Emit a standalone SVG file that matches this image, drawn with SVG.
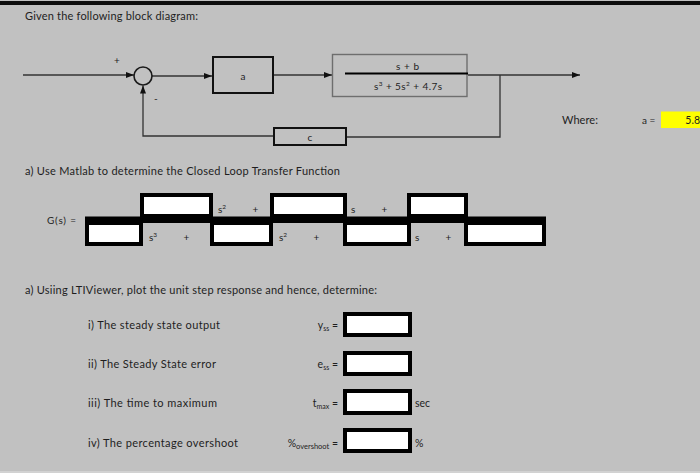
<svg xmlns="http://www.w3.org/2000/svg" width="700" height="473" viewBox="0 0 700 473">
<defs>
<marker id="arr" markerUnits="userSpaceOnUse" markerWidth="9" markerHeight="7" refX="8" refY="3" orient="auto">
<path d="M0,0 L8,3 L0,6 z" fill="#111"/>
</marker>
<style>
text{font-family:Lato,"Open Sans","Liberation Sans",sans-serif;fill:#1e1e1e}
.t{font-size:11px}
.s{font-size:10px}
.q{font-size:10.5px}
.c{stroke:#333;stroke-width:1.3;fill:none}
.blk{fill:none;stroke:#111;stroke-width:2}
.bx{fill:#fff;stroke:#000;stroke-width:4}
</style>
</defs>
<rect x="0" y="0" width="700" height="473" fill="#c1c1c1"/>
<rect x="0" y="1" width="700" height="4" fill="#0d0d0d"/>
<rect x="0" y="471" width="700" height="2" fill="#d2d2d2"/>

<text class="t" x="25" y="19.5" textLength="173">Given the following block diagram:</text>

<g id="connectors">
<line class="c" x1="23" y1="75" x2="134" y2="75" marker-end="url(#arr)"/>
<line class="c" x1="152" y1="76" x2="212" y2="76" marker-end="url(#arr)"/>
<line class="c" x1="273" y1="75" x2="332" y2="75" marker-end="url(#arr)"/>
<line class="c" x1="468" y1="75" x2="580" y2="75" marker-end="url(#arr)"/>
<polyline class="c" points="500,75 500,137 346,137"/>
<polyline class="c" points="273,136 143,136 143,85.5" marker-end="url(#arr)"/>
</g>

<g id="sum">
<circle cx="143" cy="76" r="9" fill="none" stroke="#1a1a1a" stroke-width="1.6"/>
<text class="s" x="114" y="64">+</text>
<text class="s" x="154" y="102">-</text>
</g>

<g id="block-a">
<rect class="blk" x="213" y="57" width="60" height="36"/>
<text class="s" x="243" y="80" text-anchor="middle">a</text>
</g>

<g id="block-plant">
<rect x="332.5" y="54.5" width="134.5" height="42" fill="none" stroke="#6e6e6e" stroke-width="1.4"/>
<line x1="345" y1="73.5" x2="468" y2="73.5" stroke="#000" stroke-width="2.2"/>
<text class="s" x="407.5" y="70" text-anchor="middle" textLength="23">s + b</text>
<text class="s" x="374" y="90" textLength="68">s<tspan font-size="6.5" dy="-4">3</tspan><tspan dy="4"> + 5s</tspan><tspan font-size="6.5" dy="-4">2</tspan><tspan dy="4"> + 4.7s</tspan></text>
</g>

<g id="block-c">
<rect class="blk" x="274" y="128" width="72" height="17"/>
<text class="s" x="310" y="140.5" text-anchor="middle">c</text>
</g>

<text class="t" x="562" y="124" textLength="36">Where:</text>
<text class="s" x="642" y="124">a =</text>
<rect x="661" y="111.5" width="39" height="16.5" fill="#ffff00"/>
<text font-size="10.5" x="700" y="124" text-anchor="end">5.8</text>

<text class="t" x="25" y="175" textLength="315">a)  Use Matlab to determine the Closed Loop Transfer Function</text>

<g id="gs">
<text class="s" x="47" y="224" textLength="29">G(s) =</text>
<rect x="85" y="216.5" width="461" height="6.5" fill="#000"/>
<rect class="bx" x="142" y="195" width="69" height="21"/>
<rect class="bx" x="272" y="195" width="73" height="21"/>
<rect class="bx" x="409" y="195" width="57" height="21"/>
<rect class="bx" x="87" y="223" width="54" height="21"/>
<rect class="bx" x="212" y="223" width="59" height="21"/>
<rect class="bx" x="345" y="223" width="64" height="21"/>
<rect class="bx" x="466" y="223" width="78" height="21"/>
<text class="s" x="218" y="213">s<tspan font-size="6.5" dy="-4">2</tspan></text>
<text class="s" x="252.5" y="213">+</text>
<text class="s" x="351" y="213">s</text>
<text class="s" x="381.5" y="213">+</text>
<text class="s" x="149" y="241">s<tspan font-size="6.5" dy="-4">3</tspan></text>
<text class="s" x="183.5" y="241">+</text>
<text class="s" x="279" y="241">s<tspan font-size="6.5" dy="-4">2</tspan></text>
<text class="s" x="313.5" y="241">+</text>
<text class="s" x="415" y="241">s</text>
<text class="s" x="445.5" y="241">+</text>
</g>

<text class="t" x="25" y="294" textLength="352">a)  Usiing LTIViewer, plot the unit step response and hence, determine:</text>

<text class="t" x="88" y="329" textLength="132">i) The steady state output</text>
<text class="t" x="88" y="368" textLength="128">ii) The Steady State error</text>
<text class="t" x="88" y="407" textLength="129">iii) The time to maximum</text>
<text class="t" x="88" y="447" textLength="150">iv) The percentage overshoot</text>

<g id="answers">
<text class="q" x="338" y="329" text-anchor="end">y<tspan font-size="7" dy="2">ss</tspan><tspan dy="-2"> =</tspan></text>
<text class="q" x="338" y="368" text-anchor="end">e<tspan font-size="7" dy="2">ss</tspan><tspan dy="-2"> =</tspan></text>
<text class="q" x="338" y="407" text-anchor="end">t<tspan font-size="7" dy="2">max</tspan><tspan dy="-2"> =</tspan></text>
<text class="q" x="338" y="447" text-anchor="end">%<tspan font-size="7.5" dy="2">overshoot</tspan><tspan dy="-2"> =</tspan></text>
<rect class="bx" x="345" y="314" width="65" height="21"/>
<rect class="bx" x="345" y="353" width="65" height="21"/>
<rect class="bx" x="345" y="391" width="65" height="22"/>
<rect class="bx" x="345" y="430" width="65" height="21"/>
<text class="q" x="415" y="407">sec</text>
<text class="q" x="415" y="447">%</text>
</g>
</svg>
